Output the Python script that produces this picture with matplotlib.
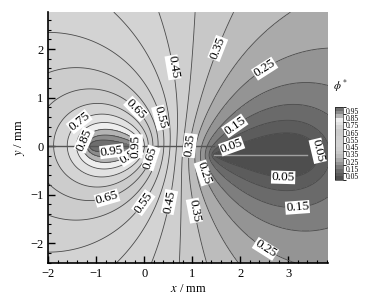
import numpy as np
import matplotlib
matplotlib.use("Agg")
import matplotlib.pyplot as plt
from matplotlib.colors import ListedColormap, BoundaryNorm
from matplotlib.ticker import MultipleLocator

plt.rcParams['font.family'] = ['Liberation Serif', 'DejaVu Serif']
plt.rcParams['mathtext.fontset'] = 'stix'

# ---- data (model of the field) ----
x_range = [-2.0, 3.83]
y_range = [-2.41, 2.76]
left_electrode = [-1.1, -0.15, 0.0]       # x0, x1, y
right_electrode = [1.45, 3.4, -0.18]      # x0, x1, y
right_tip = [1.45, 1.85, -0.18]
field_offset = 0.40
field_gradient = -0.002
left_strength = 0.2386
right_strength = 0.219
right_tip_strength = 0.02

fill_levels = [round(0.05 * i, 2) for i in range(21)]
band_grays = [0x4e, 0x5c, 0x6a, 0x7e, 0x94, 0xaa, 0xbc, 0xc8, 0xcf, 0xd3,
              0xd3, 0xd0, 0xcc, 0xcc, 0xd4, 0xe2, 0xee, 0xb4, 0x8c, 0x6e]
line_levels = [round(0.05 * i, 2) for i in range(1, 20)]
cbar_ticks = [0.05, 0.15, 0.25, 0.35, 0.45, 0.55, 0.65, 0.75, 0.85, 0.95]

label_spots = {
    0.95: [(-0.67, -0.14), (-0.08, 0.19)],
    0.85: [(-1.2, 0.1), (-0.23, -0.29)],
    0.75: [(-1.35, 0.5)],
    0.65: [(-0.08, 0.85), (0.27, -0.29), (-0.78, -1.05)],
    0.55: [(0.4, 0.6), (0.06, -1.22)],
    0.45: [(0.65, 1.63), (0.61, -1.17)],
    0.35: [(1.56, 2.0), (1.03, 0.0), (1.1, -1.32)],
    0.25: [(2.55, 1.53), (1.28, -0.54), (2.6, -2.0)],
    0.15: [(1.92, 0.37), (3.18, -1.11)],
    0.05: [(1.8, 0.06), (3.6, -0.1), (2.9, -0.5)],
}


def strip_log_potential(X, Y, x0, x1, yc):
    a = 0.5 * (x1 - x0)
    d1 = np.hypot(X - x0, Y - yc)
    d2 = np.hypot(X - x1, Y - yc)
    R = np.maximum(0.5 * (d1 + d2), a)
    return np.log((R + np.sqrt(R ** 2 - a ** 2)) / 2.0)


xs = np.linspace(x_range[0], x_range[1], 500)
ys = np.linspace(y_range[0], y_range[1], 450)
X, Y = np.meshgrid(xs, ys)
UL = strip_log_potential(X, Y, *left_electrode)
UR = strip_log_potential(X, Y, *right_electrode)
UT = strip_log_potential(X, Y, *right_tip)
PHI = (field_offset + field_gradient * X - left_strength * UL
       + right_strength * UR + right_tip_strength * UT)
PHI = np.clip(PHI, 0.0, 1.0)

fig = plt.figure(figsize=(3.82, 3.03), dpi=100)
ax = fig.add_axes([0.126, 0.132, 0.733, 0.828])

colors = ['#%02x%02x%02x' % (g, g, g) for g in band_grays]
cmap = ListedColormap(colors)
norm = BoundaryNorm(fill_levels, cmap.N)
cf = ax.contourf(X, Y, PHI, levels=fill_levels, cmap=cmap, norm=norm)

for lv in line_levels:
    c = ax.contour(X, Y, PHI, levels=[lv], colors='#4a4a4a', linewidths=0.6)
    if lv in label_spots:
        txts = ax.clabel(c, manual=label_spots[lv], inline=True,
                         inline_spacing=1, fmt='%.2f', fontsize=9.5,
                         colors='black')
        for t in txts:
            t.set_bbox(dict(facecolor='white', edgecolor='none', pad=0.4))
            t.set_zorder(5)

# electrode / axis lines
ax.plot([x_range[0], right_electrode[0]], [0, 0], color='#555555', lw=1.0)
ax.plot([right_electrode[0], right_electrode[1]],
        [right_electrode[2], right_electrode[2]], color='#a0a0a0', lw=1.0)

ax.set_xlim(x_range)
ax.set_ylim(y_range)
ax.spines['top'].set_visible(False)
ax.spines['right'].set_visible(False)
ax.spines['left'].set_linewidth(1.2)
ax.spines['bottom'].set_linewidth(1.2)
ax.xaxis.set_major_locator(MultipleLocator(1))
ax.xaxis.set_minor_locator(MultipleLocator(0.2))
ax.yaxis.set_major_locator(MultipleLocator(1))
ax.yaxis.set_minor_locator(MultipleLocator(0.2))
ax.tick_params(which='both', direction='in', top=False, right=False, labelsize=9)
ax.tick_params(which='major', length=5, width=1)
ax.tick_params(which='minor', length=2.5, width=0.8)
ax.set_xlabel('$x$ / mm', fontsize=9, labelpad=2)
ax.set_ylabel('$y$ / mm', fontsize=9, labelpad=2)

cax = fig.add_axes([0.877, 0.406, 0.022, 0.241])
cb = fig.colorbar(cf, cax=cax, ticks=cbar_ticks)
cb.ax.tick_params(labelsize=5.5, length=0, pad=1.5)
cb.outline.set_linewidth(0.4)
cb.ax.set_yticklabels(['%.2f' % v for v in cbar_ticks])
fig.text(0.89, 0.685, r'$\phi^*$', fontsize=8, ha='center', va='bottom')

fig.savefig('out.png', dpi=100)
